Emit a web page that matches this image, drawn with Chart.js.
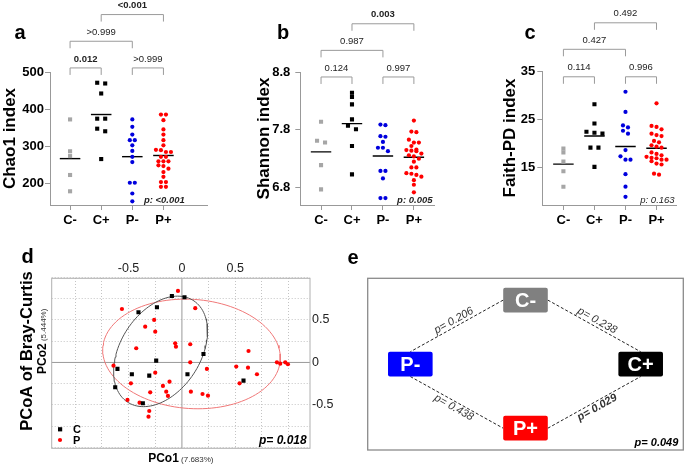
<!DOCTYPE html>
<html>
<head>
<meta charset="utf-8">
<script src="https://cdn.jsdelivr.net/npm/chart.js@4.4.1/dist/chart.umd.min.js"></script>
<style>
  body { margin: 0; background: #fff; }
  #wrap { position: relative; width: 685px; height: 466px; overflow: hidden; background: #fff; }
  canvas { position: absolute; }
</style>
</head>
<body>
<div id="wrap">
  <canvas id="ca" width="225" height="235" style="left:0;top:0"></canvas>
  <canvas id="cb" width="225" height="235" style="left:225px;top:0"></canvas>
  <canvas id="cc" width="235" height="235" style="left:450px;top:0"></canvas>
  <canvas id="cd" width="340" height="226" style="left:0;top:240px"></canvas>
  <canvas id="ce" width="345" height="226" style="left:340px;top:240px"></canvas>
</div>
<script>
// ---- data ----
const groups = ['C-', 'C+', 'P-', 'P+'];
const groupColors = ['#a6a6a6', '#000000', '#0000dd', '#ff0000'];
const groupShapes = ['rect', 'rect', 'circle', 'circle'];

// a: Chao1
const chaoCneg = [372, 286, 273, 222, 178];
const chaoCpos = [469, 471, 442, 374, 374, 347, 340, 265];
const chaoPneg = [372, 352, 331, 316, 316, 302, 287, 271, 257, 201, 201, 172, 151];
const chaoPpos = [385, 385, 370, 345, 331, 316, 302, 290, 289, 284, 284, 271, 271, 259, 259, 259, 248, 246, 239, 230, 217, 203, 203, 190, 190];
const chaoTicks = [200, 300, 400, 500];

// b: Shannon
const shanCneg = [7.94, 7.61, 7.58, 7.19, 6.77];
const shanCpos = [8.44, 8.37, 8.24, 7.98, 7.87, 7.81, 7.52, 7.03];
const shanPneg = [7.89, 7.88, 7.69, 7.68, 7.59, 7.49, 7.49, 7.43, 7.09, 7.09, 6.96, 6.62, 6.62];
const shanPpos = [7.96, 7.77, 7.76, 7.63, 7.58, 7.58, 7.52, 7.46, 7.45, 7.44, 7.43, 7.39, 7.36, 7.34, 7.30, 7.25, 7.15, 7.15, 7.05, 7.04, 7.02, 6.99, 6.93, 6.85, 6.72];
const shanTicks = [6.8, 7.8, 8.8];

// c: Faith-PD
const faithCneg = [18.9, 18.1, 16.2, 14.2, 11.0];
const faithCpos = [28.1, 24.1, 22.4, 22.2, 22.0, 19.1, 19.1, 15.1];
const faithPneg = [30.7, 26.5, 23.7, 23.3, 22.6, 22.0, 18.6, 17.3, 16.6, 16.6, 13.6, 11.0, 8.9];
const faithPpos = [28.3, 23.6, 23.4, 22.9, 22.0, 21.7, 21.5, 20.5, 20.2, 19.6, 19.3, 19.1, 18.1, 17.8, 17.5, 17.2, 17.0, 16.9, 16.6, 16.6, 16.3, 15.8, 15.6, 13.7, 13.5];
const faithTicks = [15, 25, 35];

// pairwise comparison brackets (same pairs in a, b, c)
const bracketPairs = [[1, 2], [3, 4], [1, 3], [2, 4]];
const bracketLevel = [0, 0, 1, 2];
const chaoBracketP = ['0.012', '>0.999', '>0.999', '<0.001'];
const chaoBracketBold = [true, false, false, true];
const chaoBracketY = [511, 583, 655];
const shanBracketP = ['0.124', '0.997', '0.987', '0.003'];
const shanBracketBold = [false, false, false, true];
const shanBracketY = [8.714, 9.174, 9.634];
const faithBracketP = ['0.114', '0.996', '0.427', '0.492'];
const faithBracketBold = [false, false, false, false];
const faithBracketY = [33.8, 39.5, 45.0];

// d: PCoA
const pcoaCx = [-0.094, 0.024, -0.407, -0.234, -0.241, 0.202, -0.604, -0.469, -0.306, 0.052, -0.625, -0.366, 0.577];
const pcoaCy = [0.782, 0.767, 0.591, 0.649, 0.021, 0.100, -0.076, -0.139, -0.155, -0.139, -0.292, -0.480, -0.214];
const pcoaPx = [-0.037, -0.562, 0.125, -0.260, -0.344, -0.250, -0.063, -0.056, 0.078, -0.428, 0.624, 0.078, -0.641, -0.250, 0.234, 0.509, 0.619, 0.703,
  -0.478, -0.178, -0.116, -0.147, -0.131, -0.297, -0.510, -0.397, 0.084, 0.193, 0.244, 0.540, -0.306, -0.313, 0.890, 0.921, 0.968, 0.993];
const pcoaPy = [0.841, 0.629, 0.638, 0.500, 0.421, 0.362, 0.226, 0.186, 0.214, 0.167, 0.135, 0.002, -0.038, -0.120, -0.076, -0.049, -0.061, -0.139,
  -0.245, -0.276, -0.226, -0.344, -0.394, -0.351, -0.441, -0.473, -0.344, -0.371, -0.391, -0.245, -0.571, -0.638, 0.002, -0.014, 0.002, -0.021];
const ellipseCCenter = [-0.2, 0.13], ellipseCU = [0.16, 0.65], ellipseCV = [0.41, 0];
const ellipsePCenter = [0.09, 0.10], ellipsePU = [-0.06, 0.645], ellipsePV = [0.83, 0];
const pcoaGrid = [-1, -0.75, -0.5, -0.25, 0, 0.25, 0.5, 0.75, 1];
const pcoaLabels = [-0.5, 0, 0.5];

// e: network of pairwise tests
const nodeNames = ['C-', 'P-', 'C+', 'P+'];
const nodeX = [0, -1, 1, 0];
const nodeY = [1, 0, 0, -1];
const nodeColors = ['#808080', '#0000ff', '#000000', '#ff0000'];
const edgeFrom = [0, 0, 1, 3];
const edgeTo = [1, 2, 3, 2];
const edgeP = ['0.206', '0.238', '0.438', '0.029'];
const edgeBold = [false, false, false, true];

const FF = '"Liberation Sans", Arial, Helvetica, sans-serif';
Chart.defaults.font.family = FF;
Chart.defaults.color = '#000';

function txt(ctx, s, x, y, font, color, align, base) {
  ctx.font = font + ' ' + FF;
  ctx.fillStyle = color || '#000';
  ctx.textAlign = align || 'center';
  ctx.textBaseline = base || 'middle';
  ctx.fillText(s, x, y);
}

// spread points of one group sideways, row by row
function swarm(chart) {
  const xs = chart.scales.x, ys = chart.scales.y;
  const unit = xs.getPixelForValue(2) - xs.getPixelForValue(1);
  chart.data.datasets.forEach(ds => {
    if (!ds.swarm) return;
    const step = (ds.pointStyle === 'rect' ? 8 : 5) / unit;
    const pts = ds.data.slice().sort((p, q) => q.y - p.y);
    let row = [];
    const flush = () => {
      row.forEach((p, k) => { p.x = ds.center + (k - (row.length - 1) / 2) * step; });
      row = [];
    };
    pts.forEach(p => {
      if (row.length && ys.getPixelForValue(p.y) - ys.getPixelForValue(row[0].y) > 3.6) flush();
      row.push(p);
    });
    flush();
  });
  chart.update('none');
}

function stripChart(id, o) {
  const datasets = [];
  o.values.forEach((vals, g) => {
    datasets.push({
      swarm: true, center: g + 1,
      data: vals.map(v => ({ x: g + 1, y: v })),
      pointStyle: groupShapes[g],
      pointRadius: groupShapes[g] === 'rect' ? 2.9 : 2.1,
      pointBackgroundColor: groupColors[g], pointBorderColor: groupColors[g], pointBorderWidth: 0
    });
  });
  o.values.forEach((vals, g) => {
    const mean = vals.reduce((s, v) => s + v, 0) / vals.length;
    datasets.push({
      type: 'line', showLine: true,
      data: [{ x: g + 1 - 0.33, y: mean }, { x: g + 1 + 0.33, y: mean }],
      borderColor: '#000', borderWidth: 1.4, pointRadius: 0
    });
  });
  const axisGrid = { drawOnChartArea: false, drawTicks: true, tickLength: 5, color: '#999' };
  const chart = new Chart(document.getElementById(id), {
    type: 'scatter',
    data: { datasets },
    options: {
      responsive: false, animation: false,
      layout: { padding: o.padding },
      plugins: { legend: { display: false }, tooltip: { enabled: false } },
      scales: {
        x: {
          type: 'linear', min: o.xMin, max: o.xMax,
          afterBuildTicks: s => { s.ticks = groups.map((g, i) => ({ value: i + 1 })); },
          afterFit: s => { s.height = 30; },
          ticks: { callback: v => groups[v - 1], font: { size: 13, weight: 'bold' }, color: '#000', padding: 3, autoSkip: false, maxRotation: 0 },
          grid: axisGrid,
          border: { color: '#999', width: 1 }
        },
        y: {
          min: o.yMin, max: o.yMax,
          afterBuildTicks: s => { s.ticks = o.ticks.map(v => ({ value: v })); },
          afterFit: s => { s.width = o.axisW; },
          ticks: { callback: v => String(v), font: { size: 13, weight: 'bold' }, color: '#000', padding: o.tickPad },
          grid: axisGrid,
          border: { color: '#999', width: 1 },
          title: { display: true, text: o.title, font: { size: 17, weight: 'bold' }, color: '#000', padding: 0 }
        }
      }
    },
    plugins: [{
      id: 'brackets',
      afterDraw(c) {
        const ctx = c.ctx, xs = c.scales.x, ys = c.scales.y;
        ctx.save();
        bracketPairs.forEach((pr, i) => {
          const x1 = xs.getPixelForValue(pr[0]), x2 = xs.getPixelForValue(pr[1]);
          const y = ys.getPixelForValue(o.bracketY[bracketLevel[i]]);
          ctx.strokeStyle = '#9a9a9a'; ctx.lineWidth = 1;
          ctx.beginPath();
          ctx.moveTo(x1, y + 7); ctx.lineTo(x1, y); ctx.lineTo(x2, y); ctx.lineTo(x2, y + 7);
          ctx.stroke();
          txt(ctx, o.bracketP[i], (x1 + x2) / 2, y - 9, (o.bracketBold[i] ? 'bold ' : '') + '9.5px', '#222');
        });
        txt(ctx, o.kwText, xs.getPixelForValue(4.03), c.chartArea.bottom - 5, o.kwFont, '#222');
        txt(ctx, o.letter, o.letterX, 33, 'bold 20px', '#000');
        ctx.restore();
      }
    }]
  });
  swarm(chart);
}

stripChart('ca', {
  values: [chaoCneg, chaoCpos, chaoPneg, chaoPpos], ticks: chaoTicks,
  yMin: 141, yMax: 500, xMin: 0.355, xMax: 5.4,
  padding: { top: 72, left: 0, right: 18, bottom: 0 }, axisW: 50, tickPad: 1,
  title: 'Chao1 index',
  bracketP: chaoBracketP, bracketBold: chaoBracketBold, bracketY: chaoBracketY,
  kwText: 'p: <0.001', kwFont: 'italic bold 9.5px', letter: 'a', letterX: 20
});
stripChart('cb', {
  values: [shanCneg, shanCpos, shanPneg, shanPpos], ticks: shanTicks,
  yMin: 6.5, yMax: 8.8, xMin: 0.33, xMax: 4.65,
  padding: { top: 72, left: 29, right: 16, bottom: 0 }, axisW: 46.3, tickPad: 5,
  title: 'Shannon index',
  bracketP: shanBracketP, bracketBold: shanBracketBold, bracketY: shanBracketY,
  kwText: 'p: 0.005', kwFont: 'italic bold 9.5px', letter: 'b', letterX: 58
});
stripChart('cc', {
  values: [faithCneg, faithCpos, faithPneg, faithPpos], ticks: faithTicks,
  yMin: 7.2, yMax: 35, xMin: 0.32, xMax: 4.65,
  padding: { top: 71, left: 50, right: 8.3, bottom: 0 }, axisW: 42.3, tickPad: 2,
  title: 'Faith-PD index',
  bracketP: faithBracketP, bracketBold: faithBracketBold, bracketY: faithBracketY,
  kwText: 'p: 0.163', kwFont: 'italic 9.5px', letter: 'c', letterX: 80
});

// ---- d: PCoA ----
function ellipsePoints(c, u, v) {
  const pts = [];
  for (let k = 0; k <= 120; k++) {
    const t = 2 * Math.PI * k / 120;
    pts.push({ x: c[0] + u[0] * Math.cos(t) + v[0] * Math.sin(t), y: c[1] + u[1] * Math.cos(t) + v[1] * Math.sin(t) });
  }
  return pts;
}

function pair(ctx, main, sub, x, y, rot) {
  ctx.save();
  ctx.translate(x, y);
  if (rot) ctx.rotate(-Math.PI / 2);
  ctx.font = 'bold 12px ' + FF;
  const w1 = ctx.measureText(main).width;
  ctx.font = '8px ' + FF;
  const w2 = ctx.measureText(sub).width;
  const x0 = -(w1 + w2) / 2;
  txt(ctx, main, x0, 0, 'bold 12px', '#000', 'left', 'alphabetic');
  txt(ctx, sub, x0 + w1, 0, '8px', '#333', 'left', 'alphabetic');
  ctx.restore();
}

const pcoaAxis = (pos, min, max, fit) => ({
  type: 'linear', position: pos, min, max,
  afterBuildTicks: s => { s.ticks = pcoaGrid.map(v => ({ value: v })); },
  afterFit: fit,
  ticks: { callback: v => pcoaLabels.includes(v) ? String(v) : '', font: { size: 12.5 }, color: '#222', padding: 2, autoSkip: false, maxRotation: 0 },
  grid: { color: c => (c.tick && c.tick.value === 0) ? 'rgba(0,0,0,0)' : '#c4c4c4', drawTicks: false, lineWidth: 1 },
  border: { display: false, dash: [1, 2] }
});

new Chart(document.getElementById('cd'), {
  type: 'scatter',
  data: {
    datasets: [
      { label: 'C', data: pcoaCx.map((x, i) => ({ x, y: pcoaCy[i] })), pointStyle: 'rect', pointRadius: 2.9,
        pointBackgroundColor: '#000', pointBorderColor: '#000', pointBorderWidth: 0 },
      { label: 'P', data: pcoaPx.map((x, i) => ({ x, y: pcoaPy[i] })), pointStyle: 'circle', pointRadius: 2.1,
        pointBackgroundColor: '#ff0000', pointBorderColor: '#ff0000', pointBorderWidth: 0 },
      { type: 'line', showLine: true, data: ellipsePoints(ellipseCCenter, ellipseCU, ellipseCV), borderColor: '#555', borderWidth: 1, pointRadius: 0 },
      { type: 'line', showLine: true, data: ellipsePoints(ellipsePCenter, ellipsePU, ellipsePV), borderColor: '#f07878', borderWidth: 1, pointRadius: 0 }
    ]
  },
  options: {
    responsive: false, animation: false,
    layout: { padding: { left: 51.7, right: 0, top: 0, bottom: 17.7 } },
    plugins: { legend: { display: false }, tooltip: { enabled: false } },
    scales: {
      x: pcoaAxis('top', -1.22, 1.2, s => { s.height = 38.3; }),
      y: pcoaAxis('right', -1.01, 0.99, s => { s.width = 30; })
    }
  },
  plugins: [{
    id: 'pcoaDecor',
    beforeDatasetsDraw(c) {
      const { ctx, chartArea: a, scales: { x, y } } = c;
      ctx.save();
      ctx.strokeStyle = '#999'; ctx.lineWidth = 1;
      const x0 = x.getPixelForValue(0), y0 = y.getPixelForValue(0);
      ctx.beginPath();
      ctx.moveTo(x0, a.top); ctx.lineTo(x0, a.bottom);
      ctx.moveTo(a.left, y0); ctx.lineTo(a.right, y0);
      ctx.stroke();
      ctx.strokeStyle = '#b0b0b0';
      ctx.strokeRect(a.left, a.top, a.right - a.left, a.bottom - a.top);
      ctx.restore();
    },
    afterDraw(c) {
      const { ctx, chartArea: a } = c;
      ctx.save();
      ctx.translate(31.5, 111); ctx.rotate(-Math.PI / 2);
      txt(ctx, 'PCoA of Bray-Curtis', 0, 0, 'bold 16.5px', '#000', 'center', 'alphabetic');
      ctx.restore();
      pair(ctx, 'PCo2', ' (5.444%)', 45.5, 101.3, true);
      pair(ctx, 'PCo1', ' (7.683%)', (a.left + a.right) / 2, 221.7, false);
      // legend
      const ds = c.data.datasets;
      ctx.save();
      ctx.fillStyle = '#000';
      ctx.fillRect(58, 187.2, 4.2, 4.2);
      ctx.fillStyle = '#ff0000';
      ctx.beginPath(); ctx.arc(60, 200, 2.1, 0, 2 * Math.PI); ctx.fill();
      txt(ctx, ds[0].label, 73, 189.5, 'bold 11px', '#000', 'left');
      txt(ctx, ds[1].label, 73, 200.5, 'bold 11px', '#000', 'left');
      txt(ctx, 'p= 0.018', 306.7, 200.7, 'italic bold 12px', '#000', 'right');
      txt(ctx, 'd', 27.5, 17, 'bold 20px', '#000');
      ctx.restore();
    }
  }]
});

// ---- e: network ----
new Chart(document.getElementById('ce'), {
  type: 'scatter',
  data: { datasets: [{ data: nodeX.map((x, i) => ({ x, y: nodeY[i] })), pointRadius: 0 }] },
  options: {
    responsive: false, animation: false,
    layout: { padding: { left: 27.7, right: 1.7, top: 38.3, bottom: 16 } },
    plugins: { legend: { display: false }, tooltip: { enabled: false } },
    scales: {
      x: { display: false, min: -1.37, max: 1.37 },
      y: { display: false, min: -1.34, max: 1.34 }
    }
  },
  plugins: [{
    id: 'network',
    afterDraw(c) {
      const { ctx, chartArea: a } = c;
      const pts = c.getDatasetMeta(0).data;
      const hw = 22.3, hh = 12.4;
      const cx = (a.left + a.right) / 2, cy = (a.top + a.bottom) / 2;
      const anchor = (i, j) => {
        const p = pts[i], q = pts[j];
        if (nodeX[i] === 0) return { x: p.x + (q.x > p.x ? hw : -hw), y: p.y };
        return { x: p.x, y: p.y + (q.y > p.y ? hh : -hh) };
      };
      ctx.save();
      ctx.strokeStyle = '#8a8a8a'; ctx.lineWidth = 1.3;
      ctx.strokeRect(a.left, a.top, a.right - a.left, a.bottom - a.top);
      edgeFrom.forEach((f, k) => {
        const p1 = anchor(f, edgeTo[k]), p2 = anchor(edgeTo[k], f);
        ctx.strokeStyle = '#222'; ctx.lineWidth = 1; ctx.setLineDash([3, 2]);
        ctx.beginPath(); ctx.moveTo(p1.x, p1.y); ctx.lineTo(p2.x, p2.y); ctx.stroke();
        ctx.setLineDash([]);
        const dx = p2.x - p1.x, dy = p2.y - p1.y, len = Math.hypot(dx, dy);
        let ang = Math.atan2(dy, dx);
        if (ang > Math.PI / 2) ang -= Math.PI;
        if (ang < -Math.PI / 2) ang += Math.PI;
        const mx = (p1.x + p2.x) / 2, my = (p1.y + p2.y) / 2;
        let nx = -dy / len, ny = dx / len;
        if ((mx - cx) * nx + (my - cy) * ny < 0) { nx = -nx; ny = -ny; }
        ctx.save();
        ctx.translate(mx + nx * 6, my + ny * 6);
        ctx.rotate(ang);
        txt(ctx, 'p= ' + edgeP[k], 0, 0, (edgeBold[k] ? 'italic bold ' : 'italic ') + '11px', '#333');
        ctx.restore();
      });
      pts.forEach((p, i) => {
        ctx.fillStyle = nodeColors[i];
        ctx.beginPath();
        ctx.roundRect(p.x - hw, p.y - hh, 2 * hw, 2 * hh, 2);
        ctx.fill();
        txt(ctx, nodeNames[i], p.x, p.y + 1, 'bold 20px', '#fff');
      });
      txt(ctx, 'p= 0.049', 338.3, 202.7, 'italic bold 11px', '#000', 'right');
      txt(ctx, 'e', 13, 18, 'bold 20px', '#000');
      ctx.restore();
    }
  }]
});
</script>
</body>
</html>
